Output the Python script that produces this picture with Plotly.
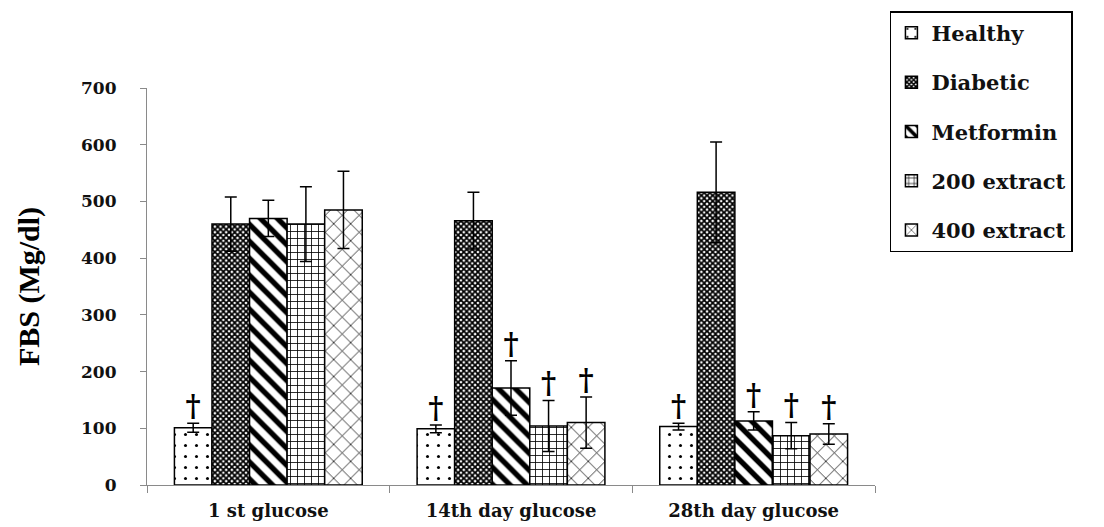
import plotly.graph_objects as go

# Fasting blood sugar per treatment group at three time points
time_points = ["1 st glucose", "14th day glucose", "28th day glucose"]
groups = ["Healthy", "Diabetic", "Metformin", "200 extract", "400 extract"]

healthy = [101, 99, 103]
diabetic = [460, 466, 516]
metformin = [470, 171, 113]
extract_200 = [460, 104, 87]
extract_400 = [485, 110, 90]

healthy_err = [8, 7, 6]
diabetic_err = [48, 50, 89]
metformin_err = [32, 48, 16]
extract_200_err = [66, 45, 23]
extract_400_err = [68, 45, 18]

# significance marks (dagger) per bar
healthy_sig = [True, True, True]
diabetic_sig = [False, False, False]
metformin_sig = [False, True, True]
extract_200_sig = [False, True, True]
extract_400_sig = [False, True, True]

values = [healthy, diabetic, metformin, extract_200, extract_400]
errors = [healthy_err, diabetic_err, metformin_err, extract_200_err, extract_400_err]
signif = [healthy_sig, diabetic_sig, metformin_sig, extract_200_sig, extract_400_sig]

patterns = [
    dict(shape=".", size=11, solidity=0.06),
    dict(shape="x", size=4, solidity=0.7),
    dict(shape="\\", size=12, solidity=0.45),
    dict(shape="+", size=7, solidity=0.22),
    dict(shape="x", size=12, solidity=0.12),
]

SERIF_BOLD = "DejaVu Serif"
BAR_GAP = 0.226

fig = go.Figure()

for i, name in enumerate(groups):
    pat = dict(patterns[i], fgcolor="black", bgcolor="white", fillmode="replace", fgopacity=1)
    fig.add_trace(go.Bar(
        name=name,
        x=time_points,
        y=values[i],
        offsetgroup=str(i),
        alignmentgroup="g",
        legendgroup=name,
        marker=dict(color="white", pattern=pat, line=dict(color="black", width=1.5)),
        error_y=dict(type="data", array=errors[i], color="black", thickness=1.5, width=6),
    ))

# daggers above the error bars
for i, name in enumerate(groups):
    ys = [v + e if s else None for v, e, s in zip(values[i], errors[i], signif[i])]
    fig.add_trace(go.Scatter(
        x=time_points,
        y=ys,
        mode="text",
        text=["†" if s else "" for s in signif[i]],
        textposition="top center",
        textfont=dict(family=SERIF_BOLD, size=29, color="black", weight="bold"),
        offsetgroup=str(i),
        alignmentgroup="g",
        showlegend=False,
        hoverinfo="skip",
    ))

fig.update_layout(
    width=1104,
    height=527,
    barmode="group",
    bargap=BAR_GAP,
    bargroupgap=0,
    scattermode="group",
    scattergap=BAR_GAP,
    plot_bgcolor="white",
    paper_bgcolor="white",
    margin=dict(l=147, r=229, t=88, b=42, autoexpand=False),
    legend=dict(
        x=1.0205, y=1.1935, xanchor="left", yanchor="top",
        bgcolor="white", bordercolor="black", borderwidth=1.5,
        font=dict(family=SERIF_BOLD, size=21, color="#111", weight="bold"),
        tracegroupgap=19,
        itemwidth=30,
    ),
    showlegend=True,
)

fig.update_xaxes(
    showline=True, linecolor="#8a8a8a", linewidth=1.2,
    ticks="outside", tickson="boundaries", ticklen=7, tickcolor="#8a8a8a",
    tickfont=dict(family=SERIF_BOLD, size=18, color="#111", weight="bold"),
    ticklabelstandoff=9,
    showgrid=False, zeroline=False,
)
fig.update_yaxes(
    range=[0, 700], dtick=100,
    showline=True, linecolor="#8a8a8a", linewidth=1.2,
    ticks="outside", ticklen=6, tickcolor="#8a8a8a",
    tickfont=dict(family=SERIF_BOLD, size=17, color="#111", weight="bold"),
    ticklabelstandoff=20,
    showgrid=False, zeroline=False,
    title=dict(text="FBS (Mg/dl)", standoff=32,
               font=dict(family="Liberation Serif", size=30, color="black", weight="bold")),
)

fig.write_html("out.html")
